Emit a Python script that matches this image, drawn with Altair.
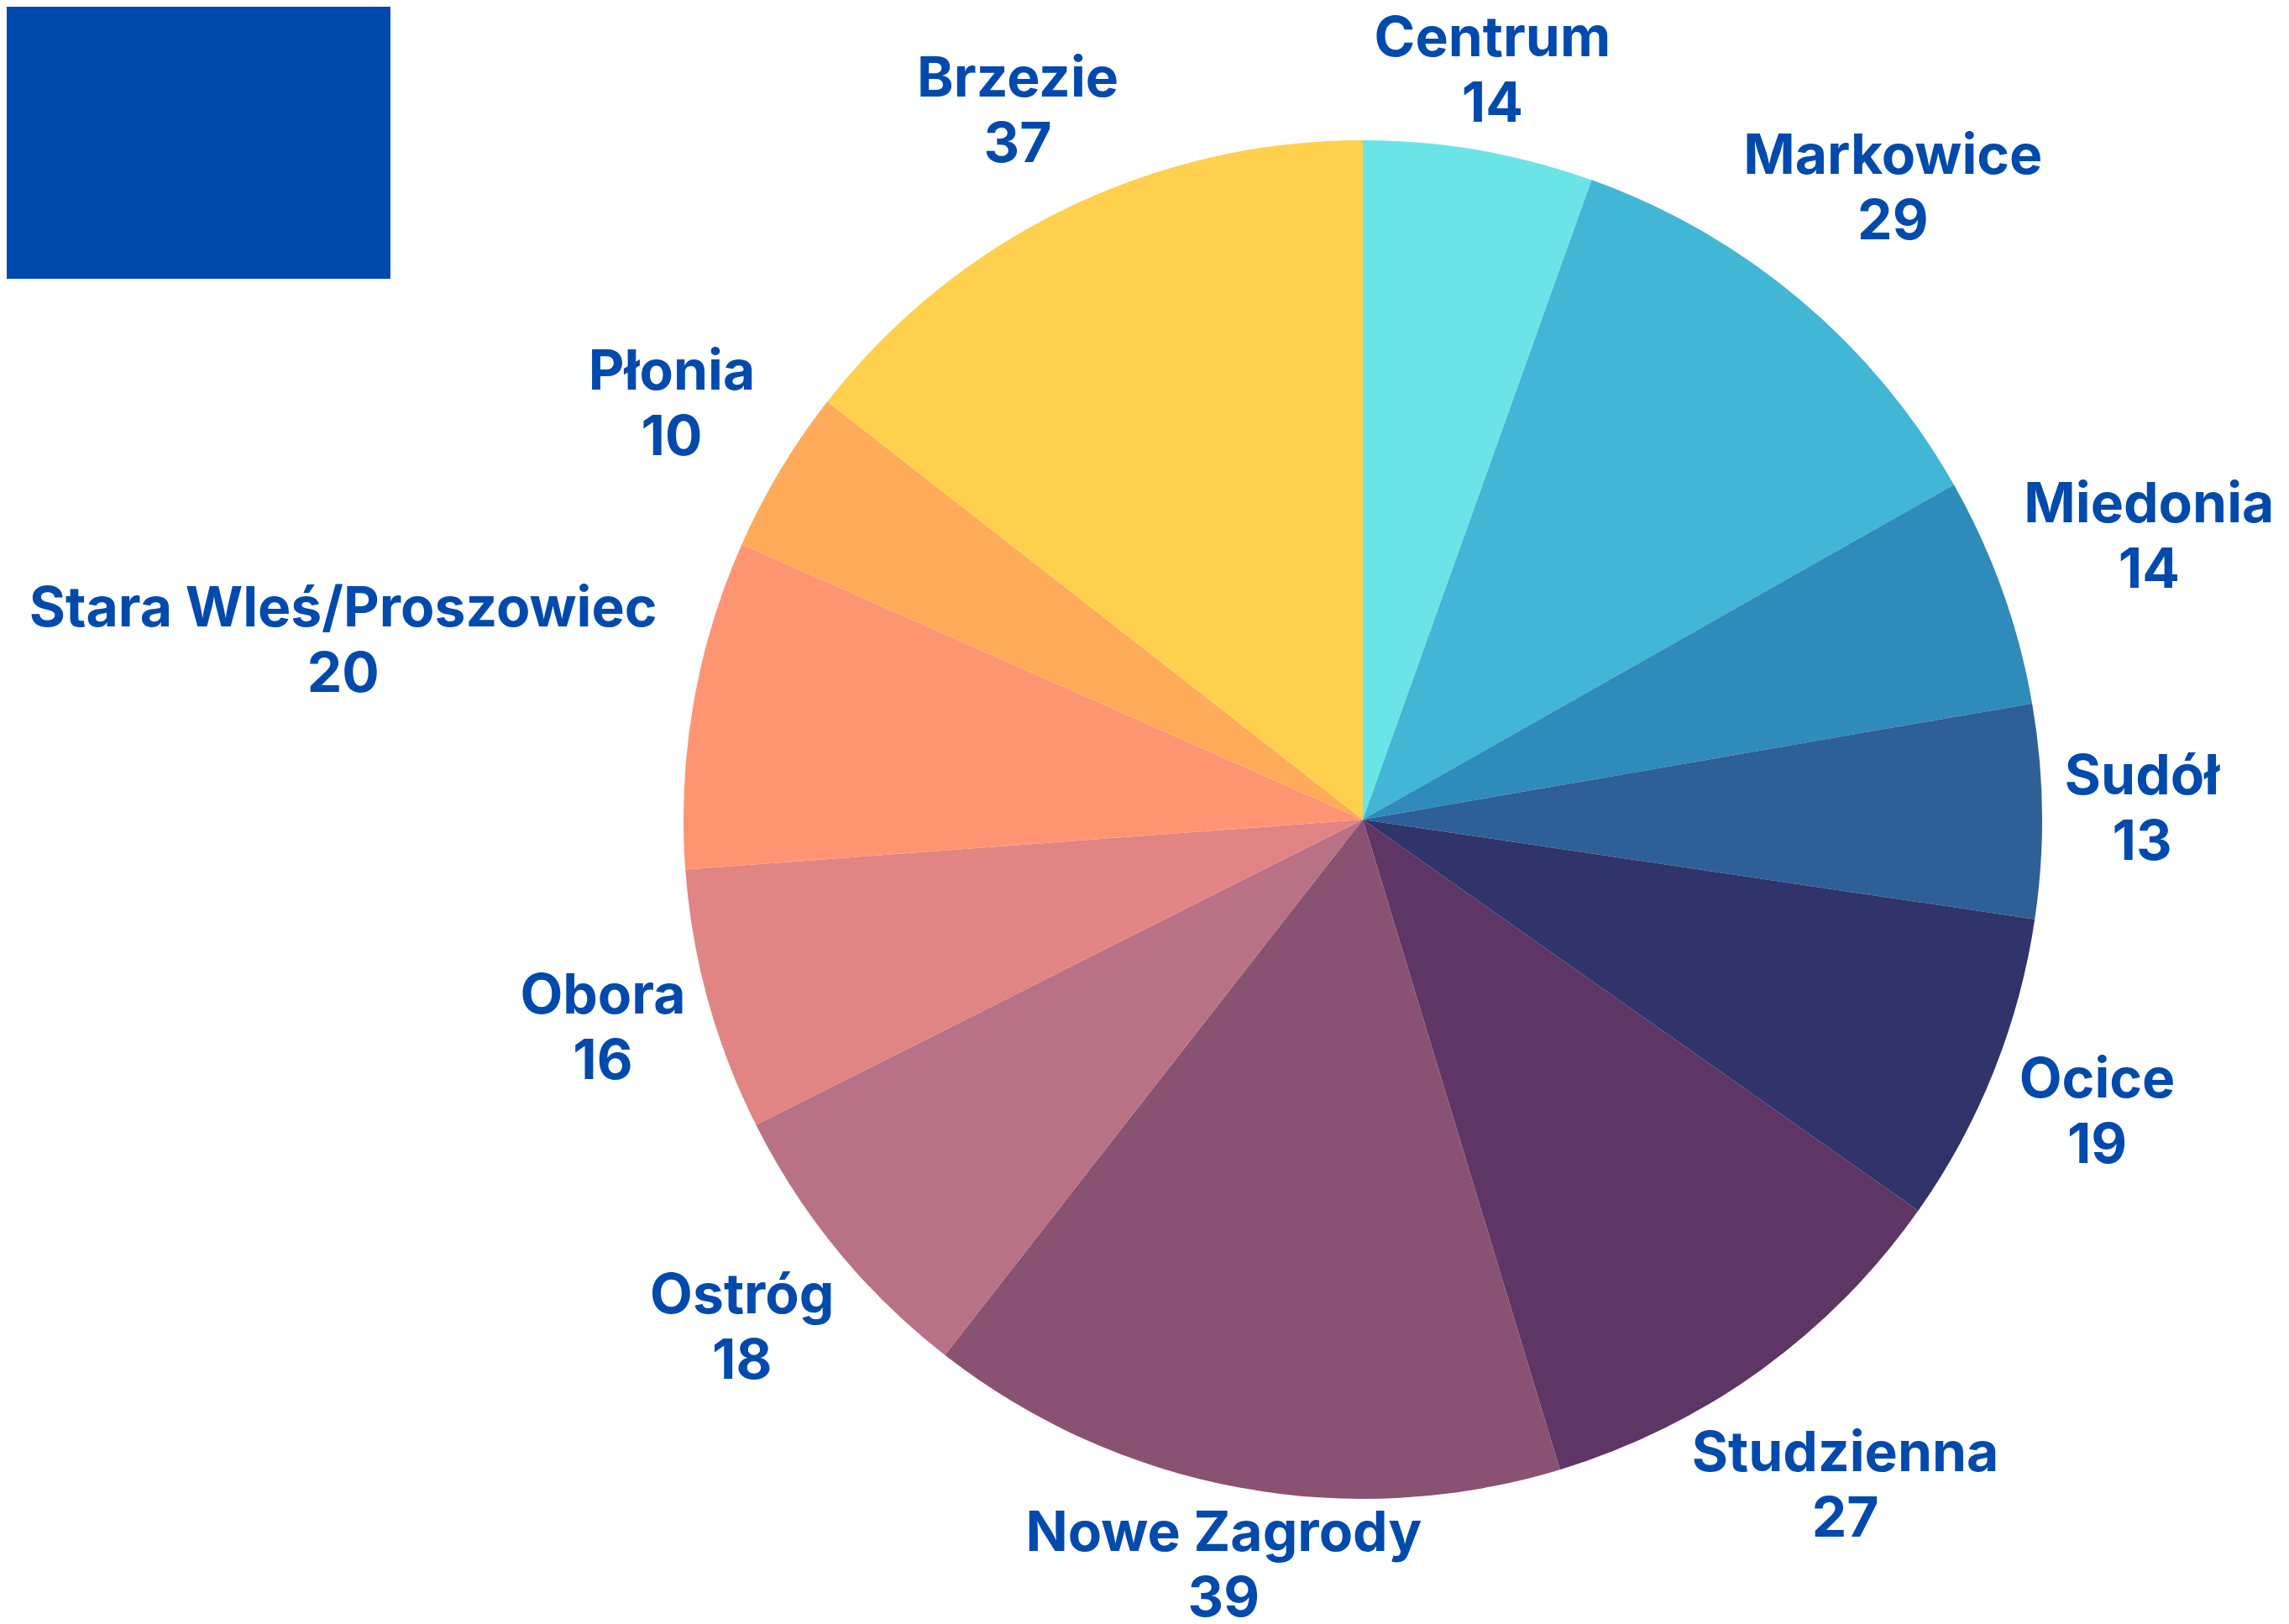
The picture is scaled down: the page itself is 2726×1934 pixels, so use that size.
import altair as alt
import pandas as pd

names = ["Centrum", "Markowice", "Miedonia", "Sudół", "Ocice", "Studzienna",
         "Nowe Zagrody", "Ostróg", "Obora", "Stara Wleś/Proszowiec", "Płonia", "Brzezie"]
values = [14, 29, 14, 13, 19, 27, 39, 18, 16, 20, 10, 37]
colors = ["#6BE4E8", "#42B6D5", "#2E8BBA", "#2E5F97", "#30346B", "#5D3665",
          "#8A5272", "#B97285", "#E08484", "#FF9473", "#FFAB5A", "#FFD04E"]

df = pd.DataFrame({
    "idx": list(range(len(names))),
    "name": names,
    "value": values,
})
df["label"] = df["value"].astype(str)

CX, CY, R = 1615, 968, 809
GAP = 25
HH = 56
TEXT_BLUE = "#004AAD"
FONT = "Inter"
L = R + GAP

base = alt.Chart(df)

pie = base.mark_arc(outerRadius=R, x=CX, y=CY).encode(
    theta=alt.Theta("value:Q", stack=True),
    color=alt.Color("name:N", scale=alt.Scale(domain=names, range=colors), legend=None),
    order=alt.Order("idx:Q"),
)

# label box (half width hw, half height HH) placed along the mid-angle ray so that
# its nearest point lies GAP pixels outside the pie
pos = (
    base.transform_window(cum="sum(value)", sort=[alt.SortField("idx")], frame=[None, 0])
    .transform_joinaggregate(total="sum(value)")
    .transform_calculate(a="2*PI*(datum.cum - datum.value/2)/datum.total")
    .transform_calculate(
        hw="max(length(datum.name), length(datum.label))*18.8",
        s="max(abs(sin(datum.a)), 1e-6)",
        c="max(abs(cos(datum.a)), 1e-6)",
    )
    .transform_calculate(
        d2=f"({L} + {HH})/datum.c",
        d3=f"({L} + datum.hw)/datum.s",
        A=f"datum.s*datum.hw + datum.c*{HH}",
    )
    .transform_calculate(
        d1=f"datum.A + sqrt(max(0, datum.A*datum.A - (datum.hw*datum.hw + {HH*HH} - {L*L})))"
    )
    .transform_calculate(
        d=f"min(datum.d2, datum.d3, (datum.d1*datum.s > datum.hw && datum.d1*datum.c > {HH}) ? datum.d1 : datum.d2)"
    )
    .transform_calculate(lx=f"{CX} + datum.d*sin(datum.a)", ly=f"{CY} - datum.d*cos(datum.a)")
)

enc = dict(
    x=alt.X("lx:Q", scale=None, axis=None),
    y=alt.Y("ly:Q", scale=None, axis=None),
)

name_text = pos.mark_text(
    font=FONT, fontSize=66, fontWeight="bold", color=TEXT_BLUE,
    align="center", baseline="middle", dy=-39,
).encode(text="name:N", **enc)

value_text = pos.mark_text(
    font=FONT, fontSize=66, fontWeight="bold", color=TEXT_BLUE,
    align="center", baseline="middle", dy=39,
).encode(text="label:N", **enc)

box = alt.Chart(alt.Data(values=[{"k": 1}])).mark_rect(color=TEXT_BLUE).encode(
    x=alt.value(0), x2=alt.value(457), y=alt.value(0), y2=alt.value(324)
)

chart = alt.layer(box, pie, name_text, value_text).properties(
    width=2710, height=1918, padding=0, autosize="none", background="white"
).configure_view(stroke=None)

chart.save("out.html", embed_options={"renderer": "svg", "actions": False})
